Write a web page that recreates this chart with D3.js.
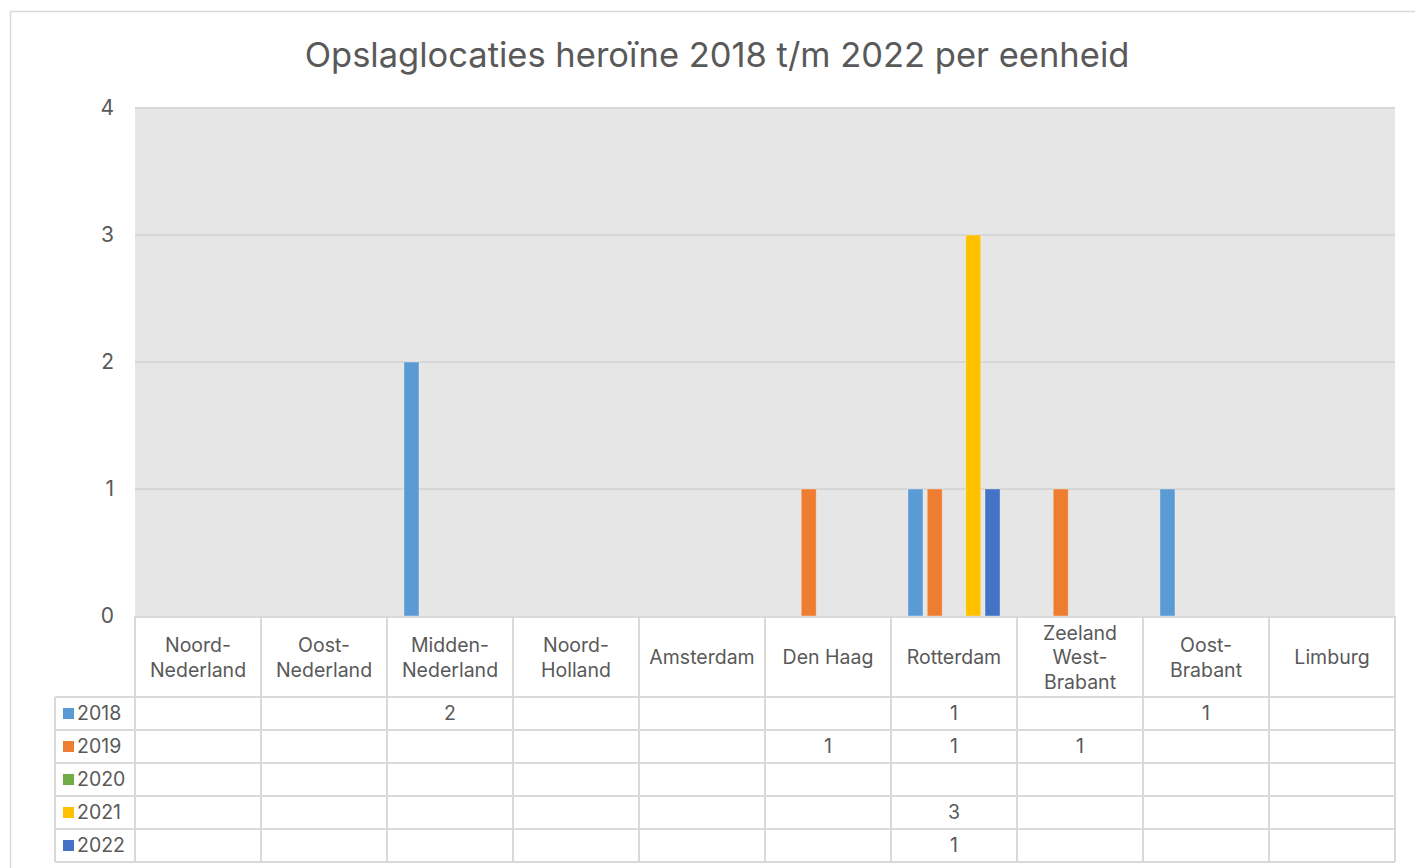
<!DOCTYPE html>
<html>
<head>
<meta charset="utf-8">
<script src="https://cdn.jsdelivr.net/npm/d3@7"></script>
<style>
  body { margin: 0; background: #fff; }
  text { font-family: "Inter", "Noto Sans", sans-serif; fill: #595959; }
</style>
</head>
<body>
<script>
// data
let categories = ['Noord-Nederland', 'Oost-Nederland', 'Midden-Nederland', 'Noord-Holland', 'Amsterdam',
                  'Den Haag', 'Rotterdam', 'Zeeland West-Brabant', 'Oost-Brabant', 'Limburg'];
let categoryLines = [['Noord-', 'Nederland'], ['Oost-', 'Nederland'], ['Midden-', 'Nederland'], ['Noord-', 'Holland'],
                     ['Amsterdam'], ['Den Haag'], ['Rotterdam'], ['Zeeland', 'West-', 'Brabant'], ['Oost-', 'Brabant'], ['Limburg']];
let seriesNames = ['2018', '2019', '2020', '2021', '2022'];
let values2018 = [null, null, 2, null, null, null, 1, null, 1, null];
let values2019 = [null, null, null, null, null, 1, 1, 1, null, null];
let values2020 = [null, null, null, null, null, null, null, null, null, null];
let values2021 = [null, null, null, null, null, null, 3, null, null, null];
let values2022 = [null, null, null, null, null, null, 1, null, null, null];
let seriesValues = [values2018, values2019, values2020, values2021, values2022];
let seriesColors = ['#5b9bd5', '#ed7d31', '#70ad47', '#ffc000', '#4472c4'];
let yTicks = [0, 1, 2, 3, 4];

//---------------------------------------------------------------------------------------------------//

let width = 1415, height = 868;
let plotLeft = 135, plotRight = 1395, plotTop = 108, plotBottom = 616;
let headerBottom = 697, rowHeight = 33, tableLeft = 55;
let lineColor = '#d9d9d9';

let svg = d3.select('body').append('svg').attr('width', width).attr('height', height);

// chart border
svg.append('rect')
    .attr('x', 10.5).attr('y', 11.5)
    .attr('width', 1430).attr('height', 900)
    .attr('fill', '#fff')
    .attr('stroke', lineColor)
    .attr('stroke-width', 1.5);

svg.append('text')
    .attr('x', 717).attr('y', 67)
    .attr('text-anchor', 'middle')
    .attr('font-size', '34.5px')
    .text('Opslaglocaties heroïne 2018 t/m 2022 per eenheid');

let x0 = d3.scaleBand().domain(categories).range([plotLeft, plotRight]).padding(0);
let x1 = d3.scaleBand().domain(seriesNames).range([0, x0.bandwidth()])
    .paddingInner(0.22).paddingOuter(0.88);
let y = d3.scaleLinear().domain([0, 4]).range([plotBottom, plotTop]);

// plot area
svg.append('rect')
    .attr('x', plotLeft).attr('y', plotTop)
    .attr('width', plotRight - plotLeft).attr('height', plotBottom - plotTop)
    .attr('fill', '#e6e6e6');

svg.append('g').selectAll('line').data(yTicks.filter(d => d > 0)).enter().append('line')
    .attr('x1', plotLeft).attr('x2', plotRight)
    .attr('y1', d => y(d)).attr('y2', d => y(d))
    .attr('stroke', '#d6d6d6')
    .attr('stroke-width', 2);

svg.append('g').selectAll('text').data(yTicks).enter().append('text')
    .attr('x', 114)
    .attr('y', d => y(d))
    .attr('dy', '0.35em')
    .attr('text-anchor', 'end')
    .attr('font-size', '21px')
    .text(d => d);

// bars
let barData = [];
seriesNames.forEach((s, i) => {
    seriesValues[i].forEach((v, j) => {
        if (v !== null) barData.push({ series: s, cat: categories[j], value: v, color: seriesColors[i] });
    });
});

svg.append('g').selectAll('rect').data(barData).enter().append('rect')
    .attr('x', d => x0(d.cat) + x1(d.series))
    .attr('y', d => y(d.value))
    .attr('width', x1.bandwidth())
    .attr('height', d => y(0) - y(d.value))
    .attr('fill', d => d.color)
    .attr('stroke', 'rgba(255,255,255,0.35)')
    .attr('stroke-width', 1);

// data table
let table = svg.append('g');
let tableBottom = headerBottom + rowHeight * seriesNames.length;

// horizontal lines
table.append('line')
    .attr('x1', plotLeft).attr('x2', plotRight)
    .attr('y1', plotBottom + 1).attr('y2', plotBottom + 1)
    .attr('stroke', lineColor).attr('stroke-width', 2);
d3.range(seriesNames.length + 1).forEach(i => {
    table.append('line')
        .attr('x1', tableLeft).attr('x2', plotRight)
        .attr('y1', headerBottom + i * rowHeight).attr('y2', headerBottom + i * rowHeight)
        .attr('stroke', lineColor).attr('stroke-width', 2);
});

// vertical lines
table.append('line')
    .attr('x1', tableLeft).attr('x2', tableLeft)
    .attr('y1', headerBottom).attr('y2', tableBottom)
    .attr('stroke', lineColor).attr('stroke-width', 2);
table.selectAll('.vline').data(categories.concat(['end'])).enter().append('line')
    .attr('class', 'vline')
    .attr('x1', (d, i) => plotLeft + i * x0.step())
    .attr('x2', (d, i) => plotLeft + i * x0.step())
    .attr('y1', plotBottom).attr('y2', tableBottom)
    .attr('stroke', lineColor).attr('stroke-width', 2);

// header labels
let headerMid = (plotBottom + headerBottom) / 2 + 1;
categories.forEach((c, j) => {
    let lines = categoryLines[j];
    let lh = 24.5;
    let t = table.append('text')
        .attr('text-anchor', 'middle')
        .attr('font-size', '19.5px');
    lines.forEach((l, k) => {
        t.append('tspan')
            .attr('x', x0(c) + x0.bandwidth() / 2)
            .attr('y', headerMid + (k - (lines.length - 1) / 2) * lh)
            .attr('dy', '0.35em')
            .text(l);
    });
});

// legend rows
seriesNames.forEach((s, i) => {
    let cy = headerBottom + i * rowHeight + rowHeight / 2;
    table.append('rect')
        .attr('x', 63).attr('y', cy - 5.5)
        .attr('width', 11).attr('height', 11)
        .attr('fill', seriesColors[i]);
    table.append('text')
        .attr('x', 77).attr('y', cy)
        .attr('dy', '0.35em')
        .attr('font-size', '19.5px')
        .text(s);
    seriesValues[i].forEach((v, j) => {
        if (v === null) return;
        table.append('text')
            .attr('x', x0(categories[j]) + x0.bandwidth() / 2)
            .attr('y', cy)
            .attr('dy', '0.35em')
            .attr('text-anchor', 'middle')
            .attr('font-size', '19.5px')
            .text(v);
    });
});
</script>
</body>
</html>
